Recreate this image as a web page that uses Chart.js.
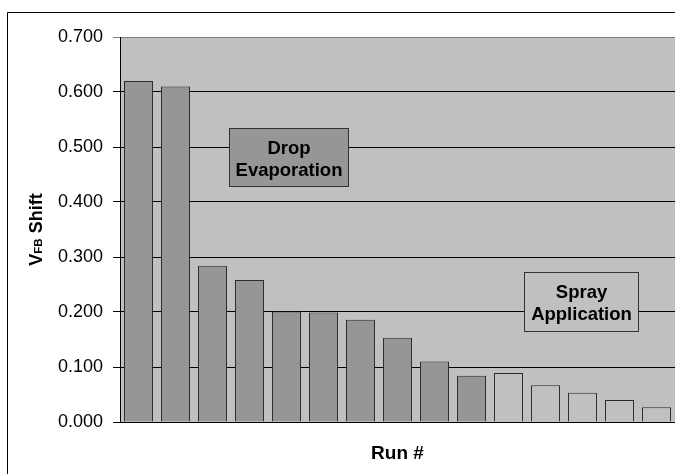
<!DOCTYPE html>
<html>
<head>
<meta charset="utf-8">
<script src="https://cdn.jsdelivr.net/npm/chart.js@4.4.1/dist/chart.umd.min.js"></script>
<style>
  html, body { margin: 0; padding: 0; background: #ffffff; }
  #wrap { width: 675px; height: 474px; }
</style>
</head>
<body>
<div id="wrap"><canvas id="c" width="675" height="474"></canvas></div>
<script>
// Run numbers along the x axis
const runs = ['1', '2', '3', '4', '5', '6', '7', '8', '9', '10', '11', '12', '13', '14', '15'];
// Flat-band voltage shift per run, by application method
const dropEvaporation = [0.620, 0.610, 0.284, 0.258, 0.201, 0.199, 0.186, 0.153, 0.110, 0.084];
const sprayApplication = [0.089, 0.067, 0.053, 0.040, 0.027];
// Value axis tick labels
const yTicks = ['0.000', '0.100', '0.200', '0.300', '0.400', '0.500', '0.600', '0.700'];

const shift = dropEvaporation.concat(sprayApplication);
const fills = shift.map((v, i) => i < dropEvaporation.length ? '#969696' : '#C0C0C0');

const FONT = '"Liberation Sans", Arial, Helvetica, sans-serif';

const decor = {
  id: 'decor',
  beforeDraw(chart) {
    const { ctx, chartArea: a } = chart;
    ctx.save();
    ctx.fillStyle = '#ffffff';
    ctx.fillRect(0, 0, chart.width, chart.height);
    ctx.fillStyle = '#C0C0C0';
    ctx.fillRect(a.left, a.top, a.right - a.left, a.bottom - a.top);
    ctx.restore();
  },
  afterDraw(chart) {
    const { ctx, chartArea: a } = chart;
    ctx.save();

    // labelled boxes for the two application methods
    const box = (x, y, w, h, fill, lines, base, gap) => {
      ctx.fillStyle = fill;
      ctx.fillRect(x, y, w, h);
      ctx.strokeStyle = '#333333';
      ctx.lineWidth = 1;
      ctx.strokeRect(x + 0.5, y + 0.5, w - 1, h - 1);
      ctx.fillStyle = '#000000';
      ctx.font = 'bold 18.5px ' + FONT;
      ctx.textAlign = 'center';
      ctx.textBaseline = 'alphabetic';
      lines.forEach((t, i) => ctx.fillText(t, x + w / 2, base + i * gap));
    };
    box(229, 128, 120, 59, '#969696', ['Drop', 'Evaporation'], 153.5, 22.5);
    box(524, 272, 115, 60, '#C0C0C0', ['Spray', 'Application'], 298, 21.5);

    // x axis title
    ctx.fillStyle = '#000000';
    ctx.font = 'bold 19px ' + FONT;
    ctx.textAlign = 'center';
    ctx.textBaseline = 'alphabetic';
    ctx.fillText('Run #', (a.left + a.right) / 2, 459);

    // y axis title with subscript
    ctx.save();
    ctx.translate(41.5, 229.5);
    ctx.rotate(-Math.PI / 2);
    ctx.textAlign = 'left';
    const parts = [
      ['V', 'bold 18px ' + FONT, 0],
      ['FB', 'bold 11.5px ' + FONT, 0],
      [' Shift', 'bold 18px ' + FONT, 0]
    ];
    let total = 0;
    parts.forEach(p => { ctx.font = p[1]; total += ctx.measureText(p[0]).width; });
    let x = -total / 2;
    parts.forEach(p => {
      ctx.font = p[1];
      ctx.fillText(p[0], x, p[2]);
      x += ctx.measureText(p[0]).width;
    });
    ctx.restore();

    // outer frame
    ctx.strokeStyle = '#000000';
    ctx.lineWidth = 1;
    ctx.beginPath();
    ctx.moveTo(7.5, chart.height);
    ctx.lineTo(7.5, 12.5);
    ctx.lineTo(chart.width, 12.5);
    ctx.stroke();
    ctx.restore();
  }
};

new Chart(document.getElementById('c'), {
  type: 'bar',
  data: {
    labels: runs,
    datasets: [{
      data: shift,
      backgroundColor: fills,
      borderColor: '#2b2b2b',
      borderWidth: 1,
      borderSkipped: 'bottom',
      barPercentage: 0.785,
      categoryPercentage: 1.0
    }]
  },
  options: {
    responsive: false,
    devicePixelRatio: 1,
    animation: false,
    layout: { padding: { left: 0, right: 0, top: 37, bottom: 52 } },
    plugins: { legend: { display: false }, tooltip: { enabled: false } },
    scales: {
      x: { display: false, offset: true, grid: { display: false } },
      y: {
        min: 0,
        max: 0.7,
        afterFit(scale) { scale.width = 120; },
        afterBuildTicks(scale) {
          scale.ticks = yTicks.map(t => ({ value: parseFloat(t) }));
        },
        ticks: {
          padding: 10,
          color: '#000000',
          font: { family: FONT, size: 18 },
          callback: (v) => yTicks.find(t => parseFloat(t) === v) || v.toFixed(3)
        },
        grid: {
          color: (c) => c.tick && c.tick.value === 0.7 ? '#808080' : '#000000',
          lineWidth: 1,
          tickLength: 7,
          drawTicks: true
        },
        border: { display: true, color: '#000000', width: 1 }
      }
    }
  },
  plugins: [decor]
});
</script>
</body>
</html>
